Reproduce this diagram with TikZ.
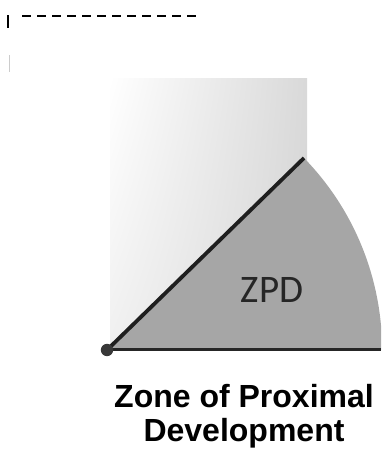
\documentclass[tikz,border=0pt]{standalone}
\usepackage{fontspec}
\usetikzlibrary{shadings}
\newfontfamily\titlefont{Liberation Sans}
\newfontfamily\zonefont{Carlito}
\begin{document}
\begin{tikzpicture}[x=1pt, y=1pt, thick]
    \useasboundingbox (0,0) rectangle (381,452);
    \clip (0,0) rectangle (381,452);

    \coordinate (O) at (107,102);
    \coordinate (T) at (304,294);
    \coordinate (E) at (381,102);

    % soft shaded box behind the zone
    \shade[upper left=white, upper right=gray!30, lower left=gray!12, lower right=gray!32]
        (110,102) rectangle (307,373);

    % the zone itself
    \fill[gray!70] (O) -- (T) arc[start angle=44.27, end angle=0, radius=275] -- cycle;

    \draw[line width=3.8pt, black!88] (O) -- (T);
    \draw[line width=3pt, black!85] (O) -- (E);
    \fill[black!78] (O) circle (6.2pt);

    \node[font=\zonefont\fontsize{39}{39}\selectfont, text=black!85] (zpd) at (272,162) {ZPD};

    % marks at the top left
    \coordinate (d1) at (22,436);
    \coordinate (d2) at (200,436);
    \draw[line width=1.8pt, dash pattern=on 9pt off 6pt] (d1) -- (d2);
    \draw[line width=1.6pt] (8,424) -- (8,437);
    \draw[line width=1pt, gray!40] (9,380) -- (9,397);

    \node[font=\titlefont\bfseries\fontsize{32}{34}\selectfont, align=center, anchor=north, inner sep=0pt]
        (title) at (244,68) {Zone of Proximal\\Development};
\end{tikzpicture}
\end{document}
